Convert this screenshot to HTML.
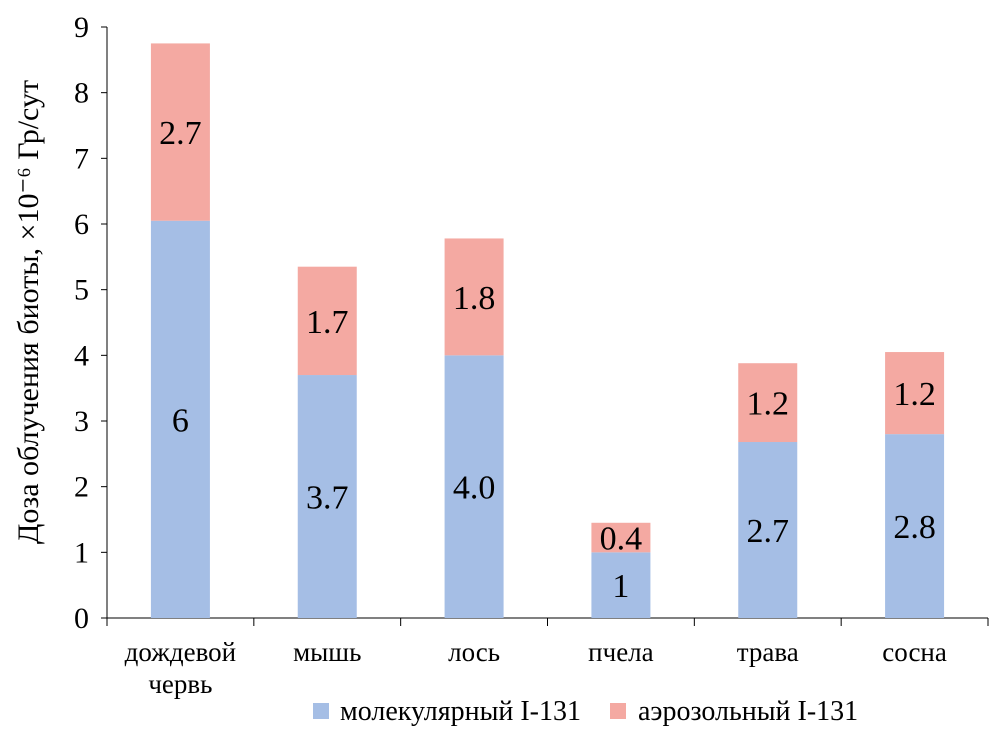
<!DOCTYPE html>
<html><head><meta charset="utf-8"><style>
body{margin:0;background:#fff}
svg{display:block;font-family:"Liberation Serif",serif}
</style></head><body>
<svg id="c" width="1008" height="737"></svg>
<script>
const categories=[["дождевой","червь"],["мышь"],["лось"],["пчела"],["трава"],["сосна"]];
const molecular=[6.05,3.7,4.0,1.0,2.68,2.8];
const aerosol=[2.7,1.65,1.78,0.45,1.2,1.25];
const molLabels=["6","3.7","4.0","1","2.7","2.8"];
const aerLabels=["2.7","1.7","1.8","0.4","1.2","1.2"];
const yTicks=[0,1,2,3,4,5,6,7,8,9];
const NS="http://www.w3.org/2000/svg";
const svg=document.getElementById('c');
const x0=107,x1=988,y0=618,y9=27;
const y=v=>y0-(y0-y9)*v/9;
const bw=(x1-x0)/categories.length;
const cx=i=>x0+bw*(i+0.5);
function el(t,a,txt){const e=document.createElementNS(NS,t);for(const k in a)e.setAttribute(k,a[k]);if(txt!==undefined)e.textContent=txt;svg.appendChild(e);return e;}
let e;
e=el('line',{x1:x0,y1:y9,x2:x0,y2:y0,stroke:'#000','stroke-width':1});

e=el('line',{x1:x0,y1:y0,x2:x1,y2:y0,stroke:'#000','stroke-width':1});

yTicks.forEach(t=>{
 e=el('line',{x1:x0-6,y1:y(t),x2:x0,y2:y(t),stroke:'#000'});
 
 e=el('text',{x:x0-18,y:y(t)+10,'text-anchor':'end','font-size':30},t);
 
});
for(let i=0;i<=categories.length;i++){
 e=el('line',{x1:x0+bw*i,y1:y0,x2:x0+bw*i,y2:y0+8,stroke:'#000'});
 
}
const barW=59;
categories.forEach((c,i)=>{
 const m=molecular[i],a=aerosol[i];
 e=el('rect',{x:cx(i)-barW/2,y:y(m),width:barW,height:y(0)-y(m),fill:'#a5bee5'});
 
 e=el('rect',{x:cx(i)-barW/2,y:y(m+a),width:barW,height:y(m)-y(m+a),fill:'#f4a9a2'});
 
 e=el('text',{x:cx(i),y:(y(0)+y(m))/2+12,'text-anchor':'middle','font-size':34},molLabels[i]);
 
 e=el('text',{x:cx(i),y:(y(m)+y(m+a))/2+12,'text-anchor':'middle','font-size':34},aerLabels[i]);
 
 c.forEach((line,j)=>{
  e=el('text',{x:cx(i),y:661+j*32,'text-anchor':'middle','font-size':27},line);
  
 });
});
e=el('text',{x:0,y:0,'text-anchor':'middle','font-size':30,transform:'translate(38,312) rotate(-90)'},'Доза облучения биоты, ×10⁻⁶ Гр/сут');

e=el('rect',{x:313,y:703,width:16,height:16,fill:'#a5bee5'});

e=el('text',{x:340,y:720,'font-size':28},'молекулярный I-131');

e=el('rect',{x:610,y:703,width:16,height:16,fill:'#f4a9a2'});

e=el('text',{x:638,y:720,'font-size':28},'аэрозольный I-131');

</script>
</body></html>
